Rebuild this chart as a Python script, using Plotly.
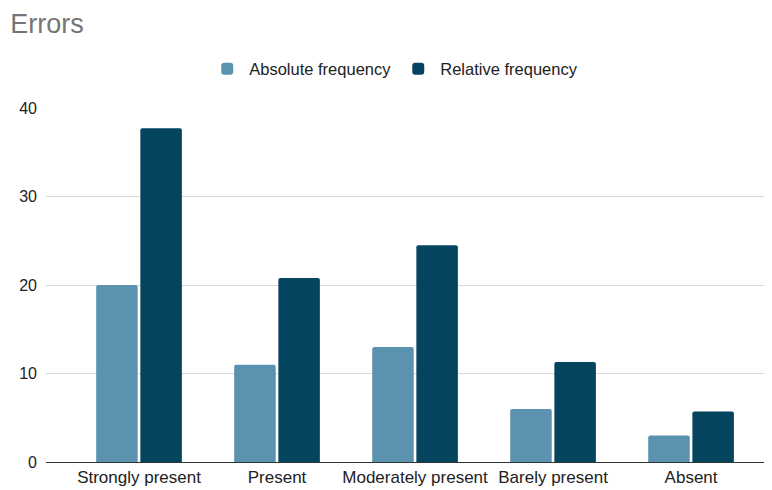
import plotly.graph_objects as go

categories = ["Strongly present", "Present", "Moderately present", "Barely present", "Absent"]
absolute_freq = [20, 11, 13, 6, 3]
relative_freq = [37.7, 20.8, 24.5, 11.3, 5.7]
y_ticks = [0, 10, 20, 30, 40]

fig = go.Figure()
fig.add_trace(go.Bar(x=categories, y=absolute_freq, name="Absolute frequency",
                     marker=dict(color="#5a92af", line=dict(width=0))))
fig.add_trace(go.Bar(x=categories, y=relative_freq, name="Relative frequency",
                     marker=dict(color="#04445f", line=dict(width=0))))

# page body has an 8px default margin; compensate in figure size/margins
fig.update_layout(
    width=764, height=482,
    paper_bgcolor="white", plot_bgcolor="white",
    font=dict(family="Liberation Sans, Arial, sans-serif", size=16, color="#222222"),
    title=dict(text="Errors", x=0.003, xanchor="left", y=0.967, yanchor="middle",
               font=dict(size=27, color="#757575")),
    legend=dict(orientation="h", x=0.481, xanchor="center", y=1.11, yanchor="middle",
                font=dict(size=16.5, color="#222222"), itemwidth=34, traceorder="normal"),
    margin=dict(l=38, r=2, t=100, b=28),
    barmode="group", bargap=0.36, bargroupgap=0.06, barcornerradius=2,
    xaxis=dict(range=[-0.674, 4.572], showgrid=False, ticks="", showline=False,
               automargin=False, ticklabelstandoff=3, tickfont=dict(size=17, color="#222222")),
    yaxis=dict(range=[0, 40], tickvals=y_ticks, showgrid=True, gridcolor="#d9d9d9",
               gridwidth=1, zeroline=True, zerolinecolor="#333333", zerolinewidth=1,
               automargin=False, ticks="", ticklabelstandoff=8,
               tickfont=dict(size=16, color="#222222")),
)

fig.write_html("out.html")
